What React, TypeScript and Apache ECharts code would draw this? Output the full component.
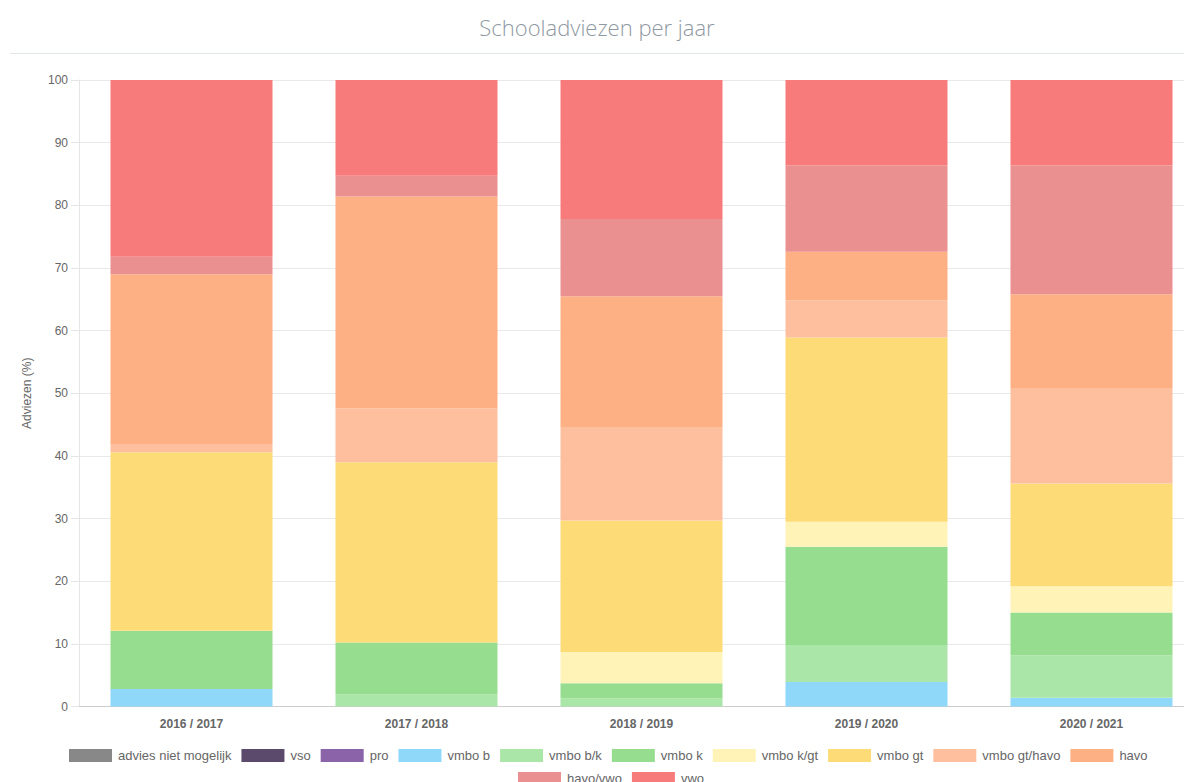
import React, { useEffect, useRef } from "react";
import * as echarts from "echarts";

const categories = ["2016 / 2017", "2017 / 2018", "2018 / 2019", "2019 / 2020", "2020 / 2021"];

const adviesNietMogelijk = [0, 0, 0, 0, 0];
const vso = [0, 0, 0, 0, 0];
const pro = [0, 0, 0, 0, 0];
const vmboB = [2.8, 0, 0, 3.9, 1.4];
const vmboBK = [0, 1.9, 1.3, 5.9, 6.8];
const vmboK = [9.3, 8.3, 2.4, 15.7, 6.8];
const vmboKGT = [0, 0, 5.0, 4.0, 4.2];
const vmboGT = [28.5, 28.8, 21.0, 29.4, 16.4];
const vmboGTHavo = [1.3, 8.6, 14.8, 5.9, 15.1];
const havo = [27.1, 33.8, 21.0, 7.8, 15.1];
const havoVwo = [2.8, 3.3, 12.3, 13.8, 20.6];
const vwo = [28.2, 15.3, 22.2, 13.6, 13.6];

const seriesNames = [
  "advies niet mogelijk", "vso", "pro", "vmbo b", "vmbo b/k", "vmbo k",
  "vmbo k/gt", "vmbo gt", "vmbo gt/havo", "havo", "havo/vwo", "vwo",
];
const seriesData = [
  adviesNietMogelijk, vso, pro, vmboB, vmboBK, vmboK,
  vmboKGT, vmboGT, vmboGTHavo, havo, havoVwo, vwo,
];
const seriesColors = [
  "#888888", "#5c4a6d", "#8a63a8", "#8fd8fa", "#aae6a7", "#96dd90",
  "#fff3b8", "#fddc77", "#febf9f", "#fdb084", "#eb9090", "#f87b7b",
];

const yTicks = { min: 0, max: 100, interval: 10 };

export default function App() {
  const ref = useRef<HTMLDivElement>(null);

  useEffect(() => {
    if (!ref.current) return;
    const chart = echarts.init(ref.current, null, { renderer: "svg" });
    const legendCommon = {
      icon: "rect",
      itemWidth: 43,
      itemHeight: 13,
      itemGap: 10,
      padding: 0,
      orient: "horizontal" as const,
      textStyle: {
        color: "#666",
        fontSize: 13,
        fontFamily: "Liberation Sans, Arial, sans-serif",
        padding: [0, 0, 0, 1],
      },
    };
    chart.setOption({
      animation: false,
      backgroundColor: "#ffffff",
      graphic: [
        {
          type: "text",
          x: 597,
          y: 27,
          style: {
            text: "Schooladviezen per jaar",
            fill: "#8f99a2",
            fontSize: 22,
            fontWeight: 300,
            fontFamily: "Open Sans, sans-serif",
            textAlign: "center",
            textVerticalAlign: "middle",
          },
        },
        {
          type: "line",
          shape: { x1: 10, y1: 53.5, x2: 1184, y2: 53.5 },
          style: { stroke: "#e3e6e8", lineWidth: 1 },
        },
      ],
      legend: [
        {
          ...legendCommon,
          left: 69,
          top: 749,
          data: seriesNames.slice(0, 10),
        },
        {
          ...legendCommon,
          left: 518,
          top: 772,
          data: seriesNames.slice(10),
        },
      ],
      grid: {
        left: 79,
        top: 80,
        width: 1125,
        height: 626.5,
        containLabel: false,
      },
      xAxis: {
        type: "category",
        data: categories,
        axisLine: { show: true, lineStyle: { color: "#cccccc", width: 1 } },
        axisTick: { show: false },
        axisLabel: {
          color: "#666",
          fontSize: 12,
          fontWeight: "bold",
          fontFamily: "Liberation Sans, Arial, sans-serif",
          margin: 11,
        },
        splitLine: { show: false },
      },
      yAxis: {
        type: "value",
        min: yTicks.min,
        max: yTicks.max,
        interval: yTicks.interval,
        name: "Adviezen (%)",
        nameLocation: "middle",
        nameGap: 46,
        nameRotate: 90,
        nameTextStyle: {
          color: "#666",
          fontSize: 12,
          fontFamily: "Liberation Sans, Arial, sans-serif",
        },
        axisLine: { show: true, lineStyle: { color: "#e6e6e6", width: 1 } },
        axisTick: { show: true, length: 8, lineStyle: { color: "#e6e6e6" } },
        axisLabel: {
          color: "#666",
          fontSize: 12,
          fontFamily: "Liberation Sans, Arial, sans-serif",
          margin: 11,
        },
        splitLine: { show: true, lineStyle: { color: "#e9e9e9", width: 1 } },
      },
      series: seriesNames.map((name, i) => ({
        name,
        type: "bar",
        stack: "total",
        data: seriesData[i],
        barCategoryGap: "28%",
        itemStyle: { color: seriesColors[i] },
        emphasis: { disabled: true },
      })),
    });
    return () => chart.dispose();
  }, []);

  return (
    <div style={{ position: "fixed", left: 0, top: 0, width: 1184, height: 782, overflow: "hidden" }}>
      <div ref={ref} style={{ width: 1226, height: 782 }} />
    </div>
  );
}
